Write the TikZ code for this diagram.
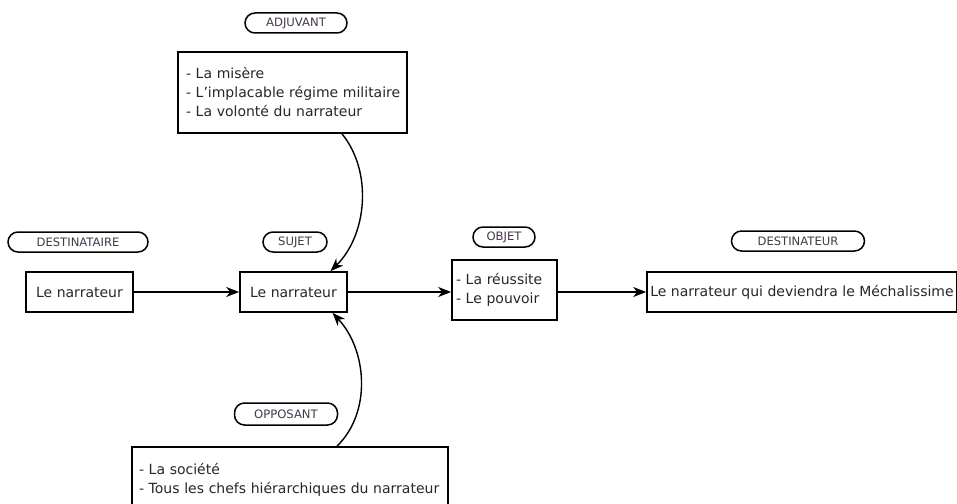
\documentclass[tikz,border=0pt]{standalone}
\usepackage{fontspec}
\setmainfont{DejaVu Sans}
\usetikzlibrary{arrows.meta}
\definecolor{ink}{RGB}{45,35,45}
\definecolor{tagink}{RGB}{70,55,75}
\begin{document}
\begin{tikzpicture}[x=1pt,y=-1pt,
  box/.style={draw=black, line width=1.7pt, fill=white, inner ysep=0pt,
    text=ink, font=\fontsize{14}{19}\selectfont},
  pill/.style={draw=black, line width=1.5pt, rounded corners=10pt,
    inner sep=0pt, minimum height=20pt, text=tagink,
    font=\fontsize{11.6}{13}\selectfont},
  link/.style={line width=1.4pt, -{Stealth[length=13pt,width=10pt,inset=4pt]}}]
  \clip (0,0) rectangle (957,503);
  \fill[white] (0,0) rectangle (957,503);

  % role labels
  \node[pill, minimum width=102pt] (tadj)  at (296,23)  {ADJUVANT};
  \node[pill, minimum width=140pt] (tdest) at (78,242)  {DESTINATAIRE};
  \node[pill, minimum width=64pt]  (tsuj)  at (295,242) {SUJET};
  \node[pill, minimum width=62pt]  (tobj)  at (504,237) {OBJET};
  \node[pill, minimum width=133pt] (tdor)  at (798,241) {DESTINATEUR};
  \node[pill, minimum width=103pt, minimum height=22pt] (topp) at (286,414) {OPPOSANT};

  % boxes
  \node[box, minimum width=229pt, minimum height=81pt, text width=213pt,
        inner xsep=8pt, align=left] (adj) at (292.5,92.5)
    {\mbox{- La misère}\\\mbox{- L'implacable régime militaire}\\\mbox{- La volonté du narrateur}};
  \node[box, minimum width=107pt, minimum height=40pt] (dest) at (79.5,292) {Le narrateur};
  \node[box, minimum width=107pt, minimum height=40pt] (suj) at (293.5,292) {Le narrateur};
  \node[box, minimum width=105pt, minimum height=60pt, text width=97pt,
        inner xsep=4pt, align=left] (obj) at (504.5,290)
    {- La réussite\\- Le pouvoir};
  \node[box, minimum width=308pt, minimum height=40pt] (dor) at (802,292)
    {Le narrateur qui deviendra le Méchalissime};
  \node[box, minimum width=316pt, minimum height=66pt, text width=302pt,
        inner xsep=7pt, align=left] (opp) at (290,480)
    {- La société\\- Tous les chefs hiérarchiques du narrateur};

  % connectors
  \draw[link] (dest.east) -- (suj.west);
  \draw[link] (suj.east) -- (suj.east -| obj.west);
  \draw[link] (dor.west -| obj.east) -- (dor.west);
  \draw[link] ([xshift=49.5pt]adj.south) .. controls (373,172) and (367,235) .. ([xshift=37pt]suj.north);
  \draw[link] ([xshift=47pt]opp.north) .. controls (372,412) and (367,350) .. ([xshift=39pt]suj.south);
\end{tikzpicture}
\end{document}
